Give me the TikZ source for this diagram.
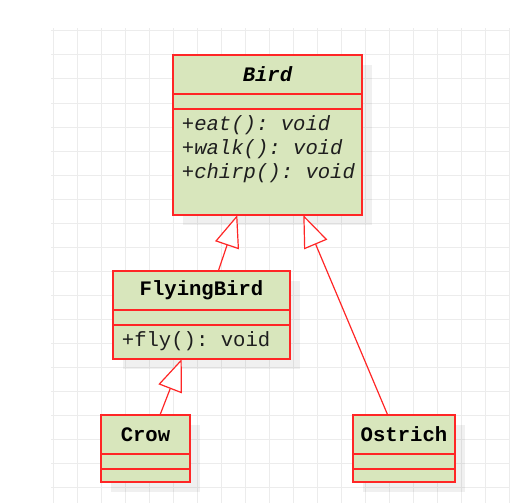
\documentclass[tikz,border=0pt]{standalone}
\usepackage{fontspec}
\newfontfamily\umlfont{Liberation Mono}
\usetikzlibrary{arrows.meta,shadows}
\definecolor{umlred}{RGB}{255,38,38}
\definecolor{umlfill}{RGB}{216,230,188}
\definecolor{gridgray}{RGB}{236,236,236}
\definecolor{methodcol}{RGB}{30,30,30}
\frenchspacing
\begin{document}
\begin{tikzpicture}[x=1pt,y=-1pt,
  gridline/.style={draw=gridgray, line width=1pt},
  classbox/.style={draw=umlred, line width=1.4pt, fill=umlfill, inner sep=0pt, outer sep=0pt, anchor=north west,
    drop shadow={shadow xshift=10pt, shadow yshift=-10pt, fill=black, opacity=0.06}},
  divider/.style={draw=umlred, line width=1.4pt},
  titletext/.style={font=\umlfont\fontsize{20.6}{24}\selectfont\bfseries, text=black, inner sep=0pt},
  methodtext/.style={font=\umlfont\fontsize{20.6}{24}\selectfont\frenchspacing, text=methodcol, inner sep=0pt, anchor=west},
  inh/.style={draw=umlred, line width=1.2pt, -{Triangle[length=32pt,width=25pt,fill=white]}}
]
\useasboundingbox (0,0) rectangle (517,503);
% grid
\foreach \x in {53,77,...,509} \draw[gridline] (\x,28) -- (\x,503);
\foreach \y in {31,55,...,487} \draw[gridline] (51,\y) -- (509,\y);

% Bird
\node[classbox, minimum width=189pt, minimum height=160pt] (bird) at (173,55) {};
\draw[divider] ([yshift=-39pt]bird.north west) -- ([yshift=-39pt]bird.north east);
\draw[divider] ([yshift=-54pt]bird.north west) -- ([yshift=-54pt]bird.north east);
\node[titletext] (birdname) at ([yshift=-19.5pt]bird.north) {\itshape Bird};
\node[methodtext] (birdm1) at (181.7,125.5) {\itshape +eat(): void};
\node[methodtext] (birdm2) at (181.7,149.5) {\itshape +walk(): void};
\node[methodtext] (birdm3) at (181.7,173.5) {\itshape +chirp(): void};

% FlyingBird
\node[classbox, minimum width=177pt, minimum height=88pt] (fb) at (113,271) {};
\draw[divider] ([yshift=-39pt]fb.north west) -- ([yshift=-39pt]fb.north east);
\draw[divider] ([yshift=-54pt]fb.north west) -- ([yshift=-54pt]fb.north east);
\node[titletext] (fbname) at ([yshift=-19.5pt]fb.north) {FlyingBird};
\node[methodtext] (fbm1) at (121.7,341.5) {+fly(): void};

% Crow
\node[classbox, minimum width=89pt, minimum height=67pt] (crow) at (101,415) {};
\draw[divider] ([yshift=-39pt]crow.north west) -- ([yshift=-39pt]crow.north east);
\draw[divider] ([yshift=-54pt]crow.north west) -- ([yshift=-54pt]crow.north east);
\node[titletext] (crowname) at ([yshift=-19.5pt]crow.north) {Crow};

% Ostrich
\node[classbox, minimum width=102pt, minimum height=67pt] (ostrich) at (353,415) {};
\draw[divider] ([yshift=-39pt]ostrich.north west) -- ([yshift=-39pt]ostrich.north east);
\draw[divider] ([yshift=-54pt]ostrich.north west) -- ([yshift=-54pt]ostrich.north east);
\node[titletext] (ostrichname) at ([yshift=-19.5pt]ostrich.north) {Ostrich};

% generalisations
\draw[inh] ([xshift=105.3pt]fb.north west) -- ([xshift=64.3pt]bird.south west);
\draw[inh] ([xshift=34.7pt]ostrich.north west) -- ([xshift=130.3pt]bird.south west);
\draw[inh] ([xshift=59pt]crow.north west) -- ([xshift=68.7pt]fb.south west);
\end{tikzpicture}
\end{document}
